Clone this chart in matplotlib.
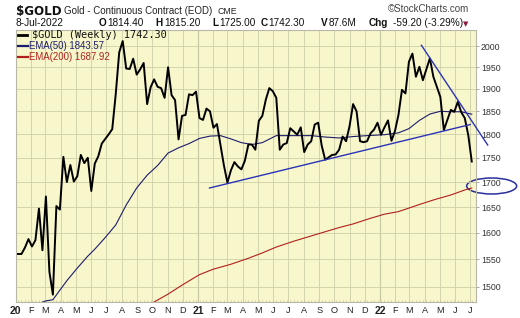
import pandas as pd
import matplotlib
matplotlib.use("Agg")
import matplotlib.pyplot as plt
from matplotlib.patches import Ellipse
from matplotlib.ticker import FixedLocator, FixedFormatter, NullLocator, NullFormatter

# weekly bars (plotted at start of week), last bar = week ending 8-Jul-2022
weeks = pd.date_range("2020-01-06", periods=131, freq="W-MON")
close = [
    1560, 1560, 1572, 1588, 1574, 1586, 1647, 1567, 1671, 1527,
    1486, 1652, 1645, 1752, 1700, 1735, 1701, 1712, 1756, 1739,
    1750, 1682, 1738, 1753, 1780, 1790, 1800, 1811, 1888, 1985,
    2012, 1947, 1946, 1970, 1933, 1945, 1960, 1866, 1904, 1922,
    1905, 1902, 1880, 1950, 1886, 1875, 1789, 1840, 1842, 1888,
    1886, 1894, 1835, 1831, 1856, 1850, 1814, 1822, 1777, 1734,
    1699, 1724, 1741, 1732, 1726, 1744, 1778, 1778, 1767, 1829,
    1840, 1876, 1902, 1895, 1880, 1767, 1778, 1781, 1813, 1806,
    1799, 1815, 1762, 1778, 1785, 1821, 1825, 1776, 1746, 1751,
    1756, 1757, 1767, 1795, 1785, 1818, 1866, 1850, 1785, 1783,
    1785, 1802, 1810, 1825, 1799, 1815, 1830, 1786, 1807, 1842,
    1898, 1890, 1963, 1982, 1928, 1951, 1920, 1945, 1971, 1928,
    1905, 1882, 1809, 1831, 1853, 1849, 1871, 1848, 1835, 1798,
    1742.3,
]

# moving averages (week number -> value)
ema50_week = [4, 8, 10, 12, 14, 17, 20, 22, 25, 28, 31, 34, 37, 40, 43, 46, 49,
              52, 55, 58, 61, 64, 67, 70, 74, 79, 84, 88, 92, 96, 100, 105,
              109, 112, 115, 118, 121, 124, 127, 130]
ema50 = [1466, 1475, 1477, 1494, 1511, 1534, 1556, 1569, 1591, 1615, 1654, 1688,
         1714, 1734, 1760, 1771, 1780, 1791, 1796, 1797, 1790, 1782, 1778, 1782,
         1797, 1797, 1797, 1794, 1792, 1795, 1797, 1799, 1803, 1812, 1830, 1844,
         1850, 1849, 1849, 1843.57]
ema200_week = [37, 39, 43, 47, 52, 56, 61, 66, 70, 74, 79, 84, 88, 92, 96, 101,
               105, 109, 115, 119, 124, 128, 130]
ema200 = [1466, 1473, 1487, 1503, 1522, 1532, 1541, 1552, 1562, 1573, 1584, 1594,
          1602, 1610, 1617, 1628, 1636, 1641, 1655, 1664, 1674, 1684, 1687.92]

# hand drawn trend lines
support_dates = ["2021-01-24", "2022-07-01"]
support_vals = [1688, 1821]
resist_dates = ["2022-03-25", "2022-08-05"]
resist_vals = [2002, 1777]

price_ticks = [1500, 1550, 1600, 1650, 1700, 1750, 1800, 1850, 1900, 1950, 2000]
month_starts = pd.date_range("2020-01-01", "2022-07-01", freq="MS")
month_letters = "JFMAMJJASOND"

W, H = 520, 318
fig = plt.figure(figsize=(W / 100, H / 100), dpi=100)
fig.patch.set_facecolor("white")
ax = fig.add_axes([15.5 / W, (H - 302) / H, 460.5 / W, 272.5 / H])
ax.set_facecolor("#f8f6cb")

ax.plot(weeks, close, color="black", lw=1.4, zorder=4)
ax.plot(weeks[ema50_week], ema50, color="#1c1c6e", lw=0.8, zorder=3)
ax.plot(weeks[ema200_week], ema200, color="#b0201c", lw=0.8, zorder=3)
ax.plot(pd.to_datetime(support_dates), support_vals, color="#2a34b8", lw=1.0, zorder=5)
ax.plot(pd.to_datetime(resist_dates), resist_vals, color="#2a34b8", lw=1.0,
        zorder=5, clip_on=False)

ax.set_yscale("log")
ax.set_ylim(1473, 2040)
ax.set_xlim(pd.Timestamp("2020-01-01"), pd.Timestamp("2022-07-12 12:00"))

ax.yaxis.set_major_locator(FixedLocator(price_ticks))
ax.yaxis.set_major_formatter(FixedFormatter([str(p) for p in price_ticks]))
ax.yaxis.set_minor_locator(NullLocator())
ax.yaxis.set_minor_formatter(NullFormatter())
ax.yaxis.tick_right()
ax.tick_params(axis="y", length=2, width=0.6, color="#999999", pad=1.5,
               labelsize=6.3, labelcolor="#333333")

labels = [m.strftime("%y") if m.month == 1 else month_letters[m.month - 1]
          for m in month_starts]
ax.set_xticks(month_starts)
ax.set_xticklabels(labels)
ax.xaxis.set_minor_locator(FixedLocator(matplotlib.dates.date2num(weeks)))
ax.tick_params(axis="x", length=0, pad=3, labelsize=6.6, labelcolor="#222222")
ax.tick_params(axis="x", which="minor", length=1.2, width=0.4, color="#b8b8a0",
               direction="in")
for lab, m in zip(ax.get_xticklabels(), month_starts):
    lab.set_fontfamily("Liberation Sans")
    if m.month == 1:
        lab.set_fontweight("bold")
        lab.set_fontsize(7.5)
for lab in ax.get_yticklabels():
    lab.set_fontfamily("Liberation Sans")

ax.grid(True, which="major", color="#cfcfa8", lw=0.6, zorder=0)
for m in month_starts:
    if m.month == 1 and m.year > 2020:
        ax.axvline(m, color="#a8a890", lw=0.8, zorder=1)
for s in ax.spines.values():
    s.set_color("#b8b8a8")
    s.set_linewidth(0.8)

# circle around 1700
ax.add_patch(Ellipse((1.034, 0.4257), 0.1086, 0.0587, transform=ax.transAxes,
                     fill=False, edgecolor="#2a2f9a", lw=1.1, clip_on=False))


def ftext(x, y, s, **kw):
    fig.text(x / W, 1 - y / H, s, va="baseline", **kw)


# header
ftext(16, 15.5, "$GOLD", family="DejaVu Sans", weight="bold", size=8.6, color="#111111")
ftext(64, 14, "Gold - Continuous Contract (EOD)", family="Liberation Sans",
      size=7, color="#222222")
ftext(217, 14, "CME", family="Liberation Sans", size=6.3, color="#222222")
ftext(388, 12.5, "\u00a9StockCharts.com", family="Liberation Sans", size=7,
      color="#444444")

ftext(16, 26.5, "8-Jul-2022", family="Liberation Sans", size=7.3, color="#111111")
parts = [(99, "O", True), (107, "1814.40", False), (155, "H", True),
         (164, "1815.20", False), (212, "L", True), (219, "1725.00", False),
         (261, "C", True), (268, "1742.30", False), (321, "V", True),
         (329, "87.6M", False), (369, "Chg", True), (393, "-59.20 (-3.29%)", False)]
for x, s, bold in parts:
    ftext(x, 26.5, s, family="Liberation Sans", size=7.2,
          weight="bold" if bold else "normal", color="#111111")
ftext(463, 26, "\u25bc", family="DejaVu Sans", size=5, color="#8b1a3a")

# legend block
fig.add_artist(plt.Line2D([18 / W, 27 / W], [1 - 35 / H, 1 - 35 / H],
                          color="black", lw=2))
ftext(31.5, 38.5, "$GOLD (Weekly) 1742.30", family="DejaVu Sans Mono", size=7.4,
      color="#111111")
fig.add_artist(plt.Line2D([18 / W, 28 / W], [1 - 46 / H, 1 - 46 / H],
                          color="#1c1c6e", lw=1.6))
ftext(29.3, 49.3, "EMA(50) 1843.57", family="Liberation Sans", size=6.9,
      color="#1c1c6e")
fig.add_artist(plt.Line2D([18 / W, 28 / W], [1 - 56.7 / H, 1 - 56.7 / H],
                          color="#b0201c", lw=1.6))
ftext(29.3, 60, "EMA(200) 1687.92", family="Liberation Sans", size=6.9,
      color="#b0201c")

fig.savefig("out.png", dpi=100)
